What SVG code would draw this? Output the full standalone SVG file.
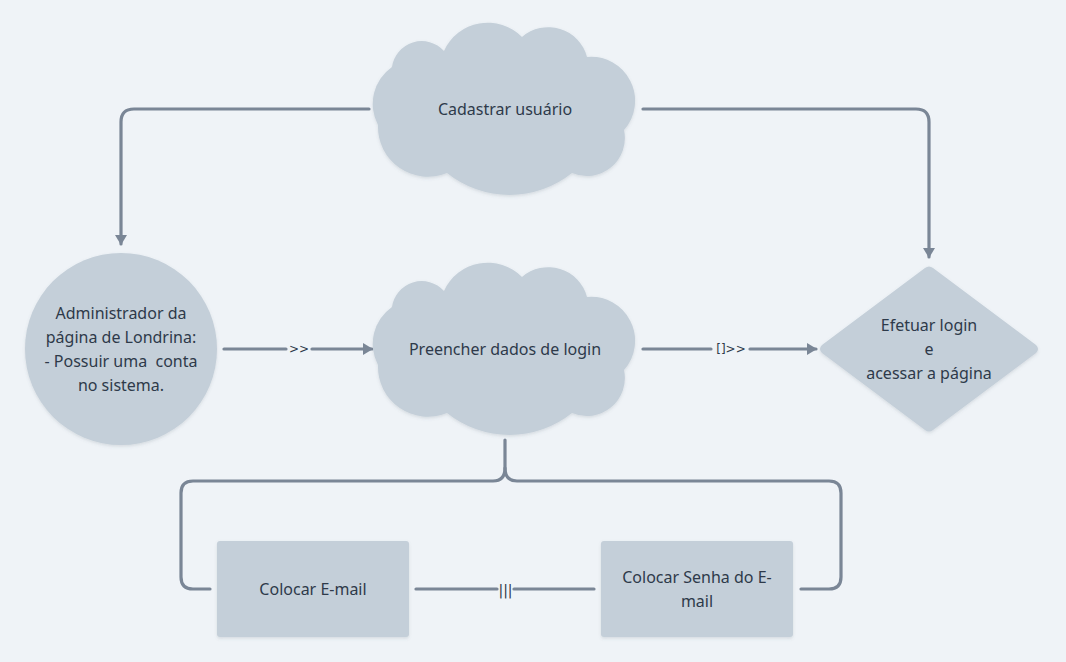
<svg xmlns="http://www.w3.org/2000/svg" width="1066" height="662" viewBox="0 0 1066 662">
<style>
.node{fill:#c4cfd9;filter:url(#sh)}
.t{font-family:"Noto Sans","DejaVu Sans",sans-serif;font-size:16px;fill:#2e3a4a;text-anchor:middle;dominant-baseline:central;white-space:pre}
.lbl{font-family:"DejaVu Sans","Liberation Sans",sans-serif;font-size:12px;fill:#2e3a4a;text-anchor:middle;dominant-baseline:central;font-variant-ligatures:none}
.c{fill:none;stroke:#7a8696;stroke-width:3.2;stroke-linecap:round;stroke-linejoin:round}
</style>
<defs>
<filter id="sh" x="-10%" y="-10%" width="120%" height="125%">
<feDropShadow dx="0" dy="1.5" stdDeviation="1.5" flood-color="#5a6a7a" flood-opacity="0.18"/>
</filter>
<marker id="ah" viewBox="0 0 10 12" refX="9" refY="6" markerWidth="10" markerHeight="12" markerUnits="userSpaceOnUse" orient="auto">
<path d="M0,0 L10,6 L0,12 Z" fill="#7a8696"/>
</marker>
<path id="cloud" d="M6,100 A45,45 0 0 1 20,42 A30,30 0 0 1 72,26 A48,48 0 0 1 150,12 A40,40 0 0 1 215,32 A44,44 0 0 1 252,105 A38,38 0 0 1 200,148 A100,100 0 0 1 75,148 A50,50 0 0 1 6,100 Z"/>
</defs>
<rect width="1066" height="662" fill="#eff3f7"/>

<g id="connectors">
<path class="c" d="M369,109 H134 Q121,109 121,122 V244" marker-end="url(#ah)"/>
<path class="c" d="M643,109 H916 Q929,109 929,122 V257" marker-end="url(#ah)"/>
<path class="c" d="M224,349 H286"/>
<path class="c" d="M312,349 H372" marker-end="url(#ah)"/>
<text class="lbl" x="299" y="349">&gt;&gt;</text>
<path class="c" d="M643,349 H711"/>
<path class="c" d="M750,349 H816" marker-end="url(#ah)"/>
<text class="lbl" x="731" y="349">[]&gt;&gt;</text>
<path class="c" d="M505,440 V468 Q505,481 493,481 H193 Q181,481 181,493 V577 Q181,589 193,589 H210"/>
<path class="c" d="M505,468 Q505,481 517,481 H829 Q841,481 841,493 V577 Q841,589 829,589 H801"/>
<path class="c" d="M416,589 H497"/>
<path class="c" d="M514,589 H594"/>
<text class="lbl" x="505.5" y="590" style="font-size:14px">|||</text>
</g>

<g id="node-cadastrar">
<use href="#cloud" class="node" transform="translate(372,25)"/>
<text class="t" x="505" y="109">Cadastrar usuário</text>
</g>

<g id="node-preencher">
<use href="#cloud" class="node" transform="translate(372,265)"/>
<text class="t" x="505" y="349">Preencher dados de login</text>
</g>

<g id="node-admin">
<circle class="node" cx="121" cy="349" r="96"/>
<text class="t" x="121" y="313">Administrador da</text>
<text class="t" x="121" y="337">página de Londrina:</text>
<text class="t" x="121" y="361">- Possuir uma  conta</text>
<text class="t" x="121" y="385">no sistema.</text>
</g>

<g id="node-efetuar">
<path class="node" d="M925,268 Q929,265 933,268 L1036,345 Q1040,349 1036,353 L933,430 Q929,433 925,430 L822,353 Q818,349 822,345 Z"/>
<text class="t" x="929" y="325">Efetuar login</text>
<text class="t" x="929" y="349">e</text>
<text class="t" x="929" y="373">acessar a página</text>
</g>

<g id="node-email">
<rect class="node" x="217" y="541" width="192" height="96" rx="3"/>
<text class="t" x="313" y="589">Colocar E-mail</text>
</g>

<g id="node-senha">
<rect class="node" x="601" y="541" width="192" height="96" rx="3"/>
<text class="t" x="697" y="577">Colocar Senha do E-</text>
<text class="t" x="697" y="601">mail</text>
</g>
</svg>
